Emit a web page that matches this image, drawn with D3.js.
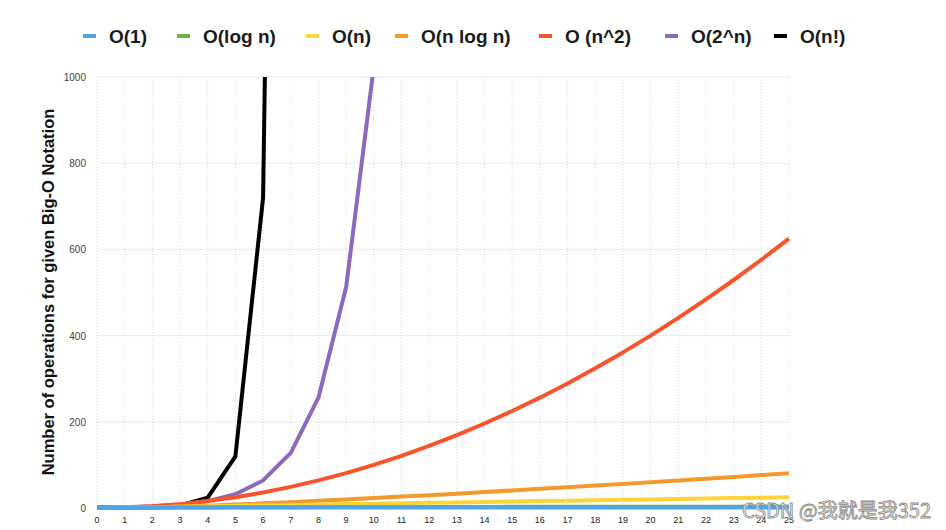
<!DOCTYPE html>
<html>
<head>
    <meta charset="utf-8">
    <title>Big-O</title>
    <script src="https://d3js.org/d3.v7.min.js"></script>
    <style>
        body { margin: 0; background: #fff; }
        .tick-label { font-family: "Liberation Sans", Arial, sans-serif; font-size: 10px; fill: #444; }
        .legend-text { font-family: "Liberation Sans", Arial, sans-serif; font-size: 19px; font-weight: bold; fill: #1a1a1a; }
        .axis-title { font-family: "Liberation Sans", Arial, sans-serif; font-size: 16.5px; font-weight: bold; fill: #111; }
    </style>
</head>
<body>
<div id="chart"></div>
<script>
    // x 值
    const nValues = d3.range(0, 26);
    const xTicks = d3.range(0, 26);
    const yTicks = [0, 200, 400, 600, 800, 1000];

    // 各曲線數值
    const constValues = [1,1,1,1,1,1,1,1,1,1,1,1,1,1,1,1,1,1,1,1,1,1,1,1,1,1];
    const logValues = [0,0,0.7,1.1,1.4,1.6,1.8,1.9,2.1,2.2,2.3,2.4,2.5,2.6,2.6,2.7,2.8,2.8,2.9,2.9,3.0,3.0,3.1,3.1,3.2,3.2];
    const linearValues = [0,1,2,3,4,5,6,7,8,9,10,11,12,13,14,15,16,17,18,19,20,21,22,23,24,25];
    const nlognValues = [0,0,1.4,3.3,5.5,8,10.8,13.6,16.6,19.8,23,26.4,29.8,33.3,37,40.6,44.4,48.2,52,55.9,59.9,63.9,68,72.1,76.3,80.5];
    const squareValues = [0,1,4,9,16,25,36,49,64,81,100,121,144,169,196,225,256,289,324,361,400,441,484,529,576,625];
    const expValues = [1,2,4,8,16,32,64,128,256,512,1024];
    const factValues = [1,1,2,6,24,120,720,5040];

    const seriesNames = ["O(1)", "O(log n)", "O(n)", "O(n log n)", "O (n^2)", "O(2^n)", "O(n!)"];
    const seriesColors = ["#4ea5ea", "#6db33f", "#fbd53a", "#f39a2b", "#f7542b", "#8c68bf", "#000000"];
    const seriesValues = [constValues, logValues, linearValues, nlognValues, squareValues, expValues, factValues];

    const width = 946, height = 530;
    const margin = { left: 97, right: 157, top: 77, bottom: 22 };

    const svg = d3.select("#chart").append("svg")
        .attr("width", width)
        .attr("height", height);

    const x = d3.scaleLinear().domain([0, 25]).range([margin.left, width - margin.right]);
    const y = d3.scaleLinear().domain([0, 1000]).range([height - margin.bottom, margin.top]);

    // 水平格線
    svg.append("g").selectAll("line")
        .data(yTicks)
        .enter().append("line")
        .attr("x1", margin.left).attr("x2", width - margin.right)
        .attr("y1", d => y(d)).attr("y2", d => y(d))
        .style("stroke", "#ececec").style("stroke-width", 1);

    // 垂直點狀格線
    svg.append("g").selectAll("line")
        .data(xTicks)
        .enter().append("line")
        .attr("x1", d => x(d)).attr("x2", d => x(d))
        .attr("y1", margin.top).attr("y2", height - margin.bottom)
        .style("stroke", "#d6d6d6").style("stroke-width", 1)
        .style("stroke-dasharray", "1,2");

    // y 軸刻度
    svg.append("g").selectAll("text")
        .data(yTicks)
        .enter().append("text")
        .attr("class", "tick-label")
        .attr("x", margin.left - 11)
        .attr("y", d => y(d) + 4)
        .attr("text-anchor", "end")
        .text(d => d);

    // x 軸刻度
    svg.append("g").selectAll("text")
        .data(xTicks)
        .enter().append("text")
        .attr("class", "tick-label")
        .attr("x", d => x(d))
        .attr("y", height - margin.bottom + 15)
        .attr("text-anchor", "middle")
        .style("font-size", "9px")
        .style("fill", "#222")
        .text(d => d);

    // y 軸標題
    svg.append("text")
        .attr("class", "axis-title")
        .attr("transform", "translate(54, 292) rotate(-90)")
        .attr("text-anchor", "middle")
        .text("Number of operations for given Big-O Notation");

    // 裁切區
    svg.append("clipPath").attr("id", "plot-clip")
        .append("rect")
        .attr("x", margin.left - 5).attr("y", margin.top)
        .attr("width", width - margin.left - margin.right + 10)
        .attr("height", height - margin.top - margin.bottom + 5);

    const line = d3.line()
        .x((d, i) => x(nValues[i]))
        .y(d => y(d));

    const plot = svg.append("g").attr("clip-path", "url(#plot-clip)");

    // 由後往前畫，O(1) 在最上層
    for (let i = seriesValues.length - 1; i >= 0; i--) {
        plot.append("path")
            .datum(seriesValues[i])
            .attr("d", line)
            .style("fill", "none")
            .style("stroke", seriesColors[i])
            .style("stroke-width", 4)
            .style("stroke-linejoin", "round");
    }

    // 圖例
    const legendX = [83, 177, 306, 395, 539, 665, 774];
    const legend = svg.append("g").selectAll("g")
        .data(seriesNames)
        .enter().append("g")
        .attr("transform", (d, i) => `translate(${legendX[i]}, 36)`);

    legend.append("line")
        .attr("x1", 0).attr("x2", 13)
        .attr("y1", 0).attr("y2", 0)
        .style("stroke", (d, i) => seriesColors[i])
        .style("stroke-width", 4);

    legend.append("text")
        .attr("class", "legend-text")
        .attr("x", 26)
        .attr("y", 7)
        .text(d => d);

    // 浮水印
    svg.append("text")
        .attr("x", 931)
        .attr("y", 518)
        .attr("text-anchor", "end")
        .style("font-family", "'Noto Sans CJK SC', sans-serif")
        .style("font-size", "20px")
        .style("fill", "#f4f4f4")
        .style("stroke", "#8a8a8a")
        .style("stroke-width", 0.8)
        .text("CSDN @我就是我352");
</script>
</body>
</html>
